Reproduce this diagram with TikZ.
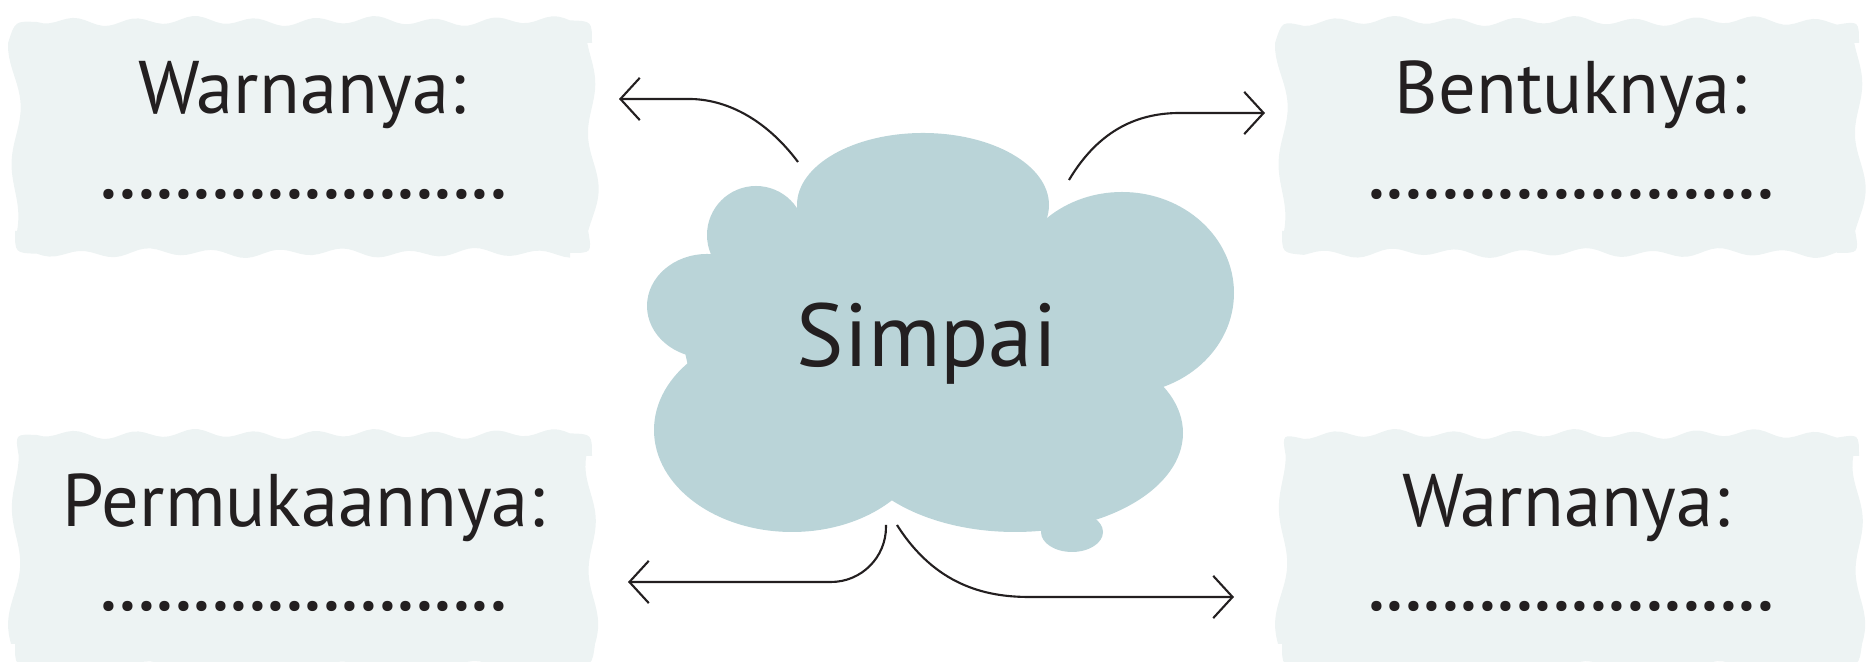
\documentclass[tikz,border=0pt]{standalone}
\usepackage{fontspec}
\setmainfont{PT Sans}
\usetikzlibrary{arrows.meta}
\definecolor{cloudfill}{HTML}{BAD4D8}
\definecolor{boxfill}{HTML}{EDF3F3}
\definecolor{inkcol}{HTML}{231F20}
\newcommand{\titik}{\foreach \k in {1,...,22}{.\kern-0.08pt}\kern0.08pt}
% kotak bergelombang: kiri, atas, kanan, bawah
\newcommand{\kotak}[4]{%
    \fill[boxfill]
        plot[domain=#1+22:#3-22, samples=90] (\x, {#2 + 3.5*sin(6*\x) + 1.5*sin(2.1*\x+40)})
        .. controls (#3,#2) .. (#3,#2-22)
        -- plot[domain=#2-22:#4+22, samples=50] ({#3 + 5*sin(3.3*\x) + 2*sin(1.7*\x+20)}, \x)
        .. controls (#3,#4) .. (#3-22,#4)
        -- plot[domain=#3-22:#1+22, samples=90] (\x, {#4 + 3.5*sin(5.5*\x) + 1.5*sin(2.3*\x+70)})
        .. controls (#1,#4) .. (#1,#4+22)
        -- plot[domain=#4+22:#2-22, samples=50] ({#1 + 5*sin(3.1*\x+50) + 2*sin(1.9*\x)}, \x)
        .. controls (#1,#2) .. cycle;}

\begin{document}
\begin{tikzpicture}[x=0.01cm,y=0.01cm,
        title/.style={anchor=base, text=inkcol, font=\fontsize{21.2}{24}\selectfont},
        isian/.style={anchor=base, text=inkcol, font=\fontsize{25}{28}\selectfont},
        arr/.style={-{Straight Barb[length=5.5pt,width=12pt]}, line width=0.6pt, draw=inkcol}]
    \useasboundingbox (0,0) rectangle (1868,-662);

    % kotak isian
    \kotak{15}{-21}{592}{-253}
    \kotak{1282}{-21}{1859}{-253}
    \kotak{15}{-434}{592}{-666}
    \kotak{1282}{-434}{1859}{-666}
    \node[title] (warna_1) at (302,-114) {Warnanya:};
    \node[isian] (isian_1) at (304,-199) {\titik};
    \node[title] (bentuk) at (1571,-114) {Bentuknya:};
    \node[isian] (isian_2) at (1571,-199) {\titik};
    \node[title] (muka) at (304,-527) {Permukaannya:};
    \node[isian] (isian_3) at (304,-611) {\titik};
    \node[title] (warna_2) at (1566,-527) {Warnanya:};
    \node[isian] (isian_4) at (1571,-611) {\titik};

    % awan
    \fill[cloudfill] (720,-260) -- (800,-215) -- (1050,-230) -- (1150,-330)
        -- (1100,-460) -- (900,-500) -- (700,-420) -- (680,-330) -- cycle;
    \fill[cloudfill] (923,-205) ellipse [x radius=126, y radius=72];
    \fill[cloudfill] (756,-235) circle [radius=49];
    \fill[cloudfill] (707,-306) ellipse [x radius=60, y radius=52];
    \fill[cloudfill] (1122,-293) ellipse [x radius=112, y radius=101];
    \fill[cloudfill] (792,-430) ellipse [x radius=138, y radius=102];
    \fill[cloudfill] (1015,-433) ellipse [x radius=168, y radius=99];
    \fill[cloudfill] (1072,-532) ellipse [x radius=31, y radius=20];
    \node[text=inkcol, font=\fontsize{25.4}{30}\selectfont] (simpai) at (927,-344) {Simpai};

    \coordinate (tl_s) at (798,-162);
    \coordinate (tl_e) at (619,-99);
    \coordinate (tr_s) at (1069,-180);
    \coordinate (tr_e) at (1265,-113);
    \coordinate (bl_s) at (886,-525);
    \coordinate (bl_e) at (628,-582);
    \coordinate (br_s) at (897,-525);
    \coordinate (br_e) at (1234,-597);

    % panah
    \draw[arr] (tl_s) .. controls (765,-118) and (725,-99) .. (689,-99) -- (tl_e);
    \draw[arr] (tr_s) .. controls (1100,-128) and (1140,-113) .. (1180,-113) -- (tr_e);
    \draw[arr, rounded corners=0.55cm] (bl_s) |- (bl_e);
    \draw[arr] (br_s) .. controls (935,-585) and (985,-597) .. (1029,-597) -- (br_e);
\end{tikzpicture}
\end{document}
